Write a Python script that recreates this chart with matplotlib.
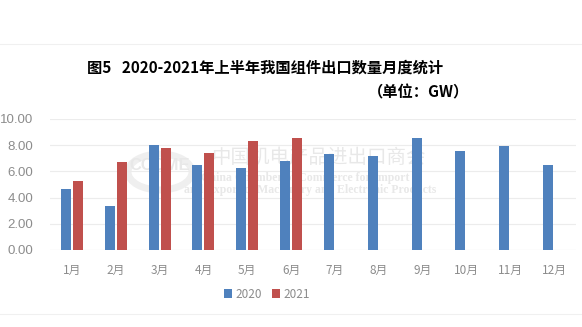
import numpy as np
import matplotlib
matplotlib.use('Agg')
from matplotlib import pyplot as plt
from matplotlib.patches import Circle

plt.rcParams['font.family'] = ['Noto Sans CJK SC', 'DejaVu Sans']

months = ['1月', '2月', '3月', '4月', '5月', '6月', '7月', '8月', '9月', '10月', '11月', '12月']
exports_2020 = [4.67, 3.37, 7.98, 6.51, 6.28, 6.81, 7.35, 7.19, 8.57, 7.58, 7.96, 6.51]
exports_2021 = [5.28, 6.68, 7.81, 7.42, 8.34, 8.57]
yticks = [0, 2, 4, 6, 8, 10]

blue = '#4F81BD'
red = '#C0504D'
grey = '#8c8c8c'

fig = plt.figure(figsize=(5.82, 3.27), dpi=100)
ax = fig.add_axes([0.0859, 0.2355, 0.9038, 0.4006])

x = np.arange(len(months))
w = 0.23
off = 0.137
ax.bar(x - off, exports_2020, width=w, color=blue, label='2020', zorder=3)
ax.bar(x[:len(exports_2021)] + off, exports_2021, width=w, color=red, label='2021', zorder=3)

ax.set_xlim(-0.5, len(months) - 0.5)
ax.set_ylim(0, 10)
ax.set_yticks(yticks)
ax.set_yticklabels(['%.2f' % v for v in yticks], family='Liberation Sans', fontsize=9.5, color=grey)
ax.set_xticks(x)
ax.set_xticklabels(months, fontsize=8.5, color=grey)
ax.tick_params(length=0, pad=10)
ax.tick_params(axis='y', pad=12)
ax.grid(axis='y', color='#ececec', linewidth=0.8, zorder=0)
for s in ax.spines.values():
    s.set_visible(False)
ax.axhline(0, color='#e4e4e4', linewidth=0.8, zorder=1)

# faint watermark, kept behind the bars
wm = '#e8e8e8'
ft = fig.transFigure
ax.add_patch(Circle((160 / 582, 1 - 172 / 327), 32 / 582, transform=ft, fill=False,
                    ec='#efefef', lw=5, zorder=1, clip_on=False))
ax.text(160 / 582, 1 - 166 / 327, 'CCCME', transform=ft, color=wm, fontsize=12, weight='bold',
        family='Liberation Sans', ha='center', va='center', zorder=1)
ax.text(318 / 582, 1 - 157 / 327, '中国机电产品进出口商会', transform=ft, color=wm, fontsize=14,
        ha='center', va='center', zorder=1)
ax.text(305 / 582, 1 - 178 / 327, 'China Chamber of Commerce for Import', transform=ft, color=wm,
        fontsize=8.5, family='Liberation Serif', weight='bold', ha='center', va='center', zorder=1)
ax.text(310 / 582, 1 - 190 / 327, 'and Export of Machinery and Electronic Products', transform=ft,
        color=wm, fontsize=8.5, family='Liberation Serif', weight='bold', ha='center', va='center',
        zorder=1)

fig.text(265 / 582, 1 - 68 / 327, '图5   2020-2021年上半年我国组件出口数量月度统计',
         fontsize=11, weight='bold', ha='center', va='center')
fig.text(418 / 582, 1 - 92 / 327, '（单位：GW）', fontsize=11, weight='bold',
         ha='center', va='center')

leg = fig.legend(loc='center', bbox_to_anchor=(267 / 582, 1 - 294 / 327), ncol=2, frameon=False,
                 fontsize=8.5, handlelength=0.7, handleheight=0.7, handletextpad=0.3,
                 columnspacing=0.8)
for t in leg.get_texts():
    t.set_color(grey)

# light frame lines above and below the chart
fig.add_artist(plt.Line2D([0, 1], [1 - 44 / 327, 1 - 44 / 327], color='#f0f0f0', lw=0.8))
fig.add_artist(plt.Line2D([0, 1], [1 - 314 / 327, 1 - 314 / 327], color='#f0f0f0', lw=0.8))

fig.savefig('out.png', dpi=100, facecolor='white')
